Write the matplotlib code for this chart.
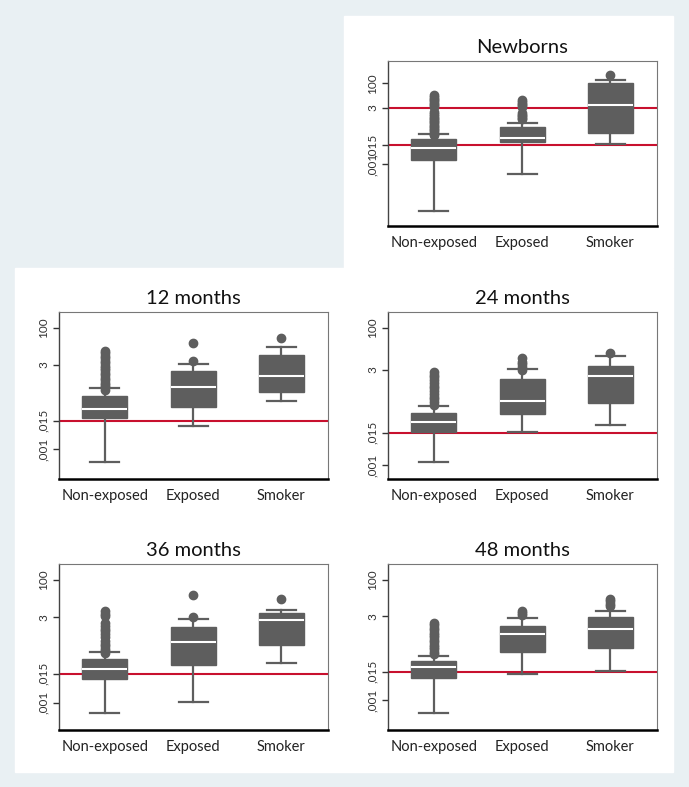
import numpy as np
import matplotlib
matplotlib.use('Agg')
from matplotlib import pyplot as plt

plt.rcParams['font.family'] = ['Lato', 'DejaVu Sans']

groups = ['Non-exposed', 'Exposed', 'Smoker']
titles = ['Newborns', '12 months', '24 months', '36 months', '48 months']

# values read as log10 of the measure, one list per panel (Non-exposed, Exposed, Smoker)
q1 = [[-2.76, -1.62, -1.06], [-1.70, -1.28, -0.64], [-1.79, -1.13, -0.74], [-2.05, -1.46, -0.64], [-2.07, -1.01, -0.86]]
med = [[-1.98, -1.37, 0.65], [-1.33, -0.45, 0.04], [-1.44, -0.65, 0.27], [-1.61, -0.53, 0.36], [-1.64, -0.26, -0.04]]
q3 = [[-1.48, -0.73, 2.04], [-0.81, 0.21, 0.87], [-1.11, 0.16, 0.63], [-1.22, 0.06, 0.65], [-1.40, 0.07, 0.44]]
whislo = [[-5.89, -3.63, -1.79], [-3.52, -2.06, -1.03], [-2.89, -1.78, -1.52], [-3.43, -2.99, -1.38], [-3.56, -1.93, -1.79]]
whishi = [[-1.17, -0.44, 2.21], [-0.49, 0.50, 1.23], [-0.83, 0.52, 1.00], [-0.92, 0.42, 0.76], [-1.17, 0.39, 0.69]]
fliers = [
    [[-1.22, -1.12, -1.02, -0.92, -0.82, -0.72, -0.62, -0.52, -0.42, -0.32, -0.22, -0.12, -0.02, 0.08, 0.2,
      0.55, 0.65, 0.75, 0.85, 0.95, 1.05, 1.15, 1.28],
     [-0.22, -0.12, -0.02, 0.06, 0.14, 0.55, 0.65, 0.75, 0.85, 0.96],
     [2.52]],
    [[-0.55, -0.45, -0.35, -0.25, -0.15, -0.05, 0.05, 0.15, 0.25, 0.35, 0.45, 0.55, 0.65, 0.75, 0.85, 0.95, 1.04],
     [0.62, 1.38],
     [1.59]],
    [[-0.80, -0.70, -0.60, -0.50, -0.40, -0.30, -0.20, -0.10, 0.0, 0.10, 0.20, 0.30, 0.41],
     [0.48, 0.58, 0.68, 0.78, 0.90],
     [1.11]],
    [[-0.99, -0.90, -0.80, -0.70, -0.60, -0.50, -0.31, -0.20, -0.10, 0.0, 0.10, 0.23, 0.51, 0.60, 0.71],
     [0.50, 1.36],
     [1.21]],
    [[-1.10, -1.00, -0.90, -0.80, -0.70, -0.60, -0.50, -0.40, -0.30, -0.20, -0.10, 0.0, 0.10, 0.19],
     [0.54, 0.60, 0.68],
     [0.89, 1.00, 1.12, 1.19]],
]
ylims = [(-6.85, 3.39), (-4.23, 2.66), (-3.51, 2.59), (-4.11, 2.64), (-4.25, 2.65)]
red_lines = [[3, 0.015], [0.015], [0.015], [0.015], [0.015]]

tick_vals = [0.001, 0.015, 3, 100]
tick_labels = [',001', ',015', '3', '100']

W, H = 689, 787
fig = plt.figure(figsize=(W / 100, H / 100), dpi=100)
fig.patch.set_facecolor('#e9f0f3')

# white panel backgrounds
fig.patches.append(plt.Rectangle((344 / W, 1 - 268 / H), (673 - 344) / W, (268 - 16) / H,
                                 transform=fig.transFigure, color='white', zorder=-1))
fig.patches.append(plt.Rectangle((15 / W, 1 - 772 / H), (673 - 15) / W, (772 - 268) / H,
                                 transform=fig.transFigure, color='white', zorder=-1))

# axes boxes in pixels: left, right, top, bottom
boxes = [(388, 657, 61, 226), (59, 328, 312, 479), (388, 657, 312, 479),
         (59, 328, 564, 730), (388, 657, 564, 730)]

gray = '#5e5e5e'
for i in range(5):
    l, r, t, b = boxes[i]
    ax = fig.add_axes([l / W, 1 - b / H, (r - l) / W, (b - t) / H])
    stats = []
    for j in range(3):
        stats.append({'med': 10 ** med[i][j], 'q1': 10 ** q1[i][j], 'q3': 10 ** q3[i][j],
                      'whislo': 10 ** whislo[i][j], 'whishi': 10 ** whishi[i][j],
                      'fliers': 10 ** np.array(fliers[i][j])})
    for y in red_lines[i]:
        ax.axhline(y, color='#c8102e', lw=1.5, zorder=1)
    ax.bxp(stats, positions=[1, 2, 3], widths=0.51, patch_artist=True,
           boxprops=dict(facecolor=gray, edgecolor=gray, lw=1),
           medianprops=dict(color='white', lw=1.5),
           whiskerprops=dict(color=gray, lw=1.6),
           capprops=dict(color=gray, lw=1.6),
           capwidths=0.33,
           flierprops=dict(marker='o', markerfacecolor=gray, markeredgecolor=gray, markersize=6),
           zorder=2)
    ax.set_yscale('log')
    ax.set_ylim(10 ** ylims[i][0], 10 ** ylims[i][1])
    ax.set_xlim(0.48, 3.53)
    ax.set_yticks(tick_vals)
    ax.set_yticklabels(tick_labels, rotation=90, va='center', fontsize=8.5, color='#333333')
    ax.minorticks_off()
    ax.set_xticks([1, 2, 3])
    ax.set_xticklabels(groups, fontsize=10.5, color='#222222')
    ax.tick_params(axis='x', length=0, pad=7)
    ax.tick_params(axis='y', length=4, width=1, color='#333333', pad=3)
    ax.set_title(titles[i], fontsize=14.5, pad=6, color='#111111')
    for s in ['top', 'right']:
        ax.spines[s].set_color('#777777')
        ax.spines[s].set_linewidth(0.8)
    ax.spines['left'].set_color('#444444')
    ax.spines['left'].set_linewidth(1)
    ax.spines['bottom'].set_color('black')
    ax.spines['bottom'].set_linewidth(1.8)

fig.savefig('out.png', dpi=100, facecolor=fig.get_facecolor())
